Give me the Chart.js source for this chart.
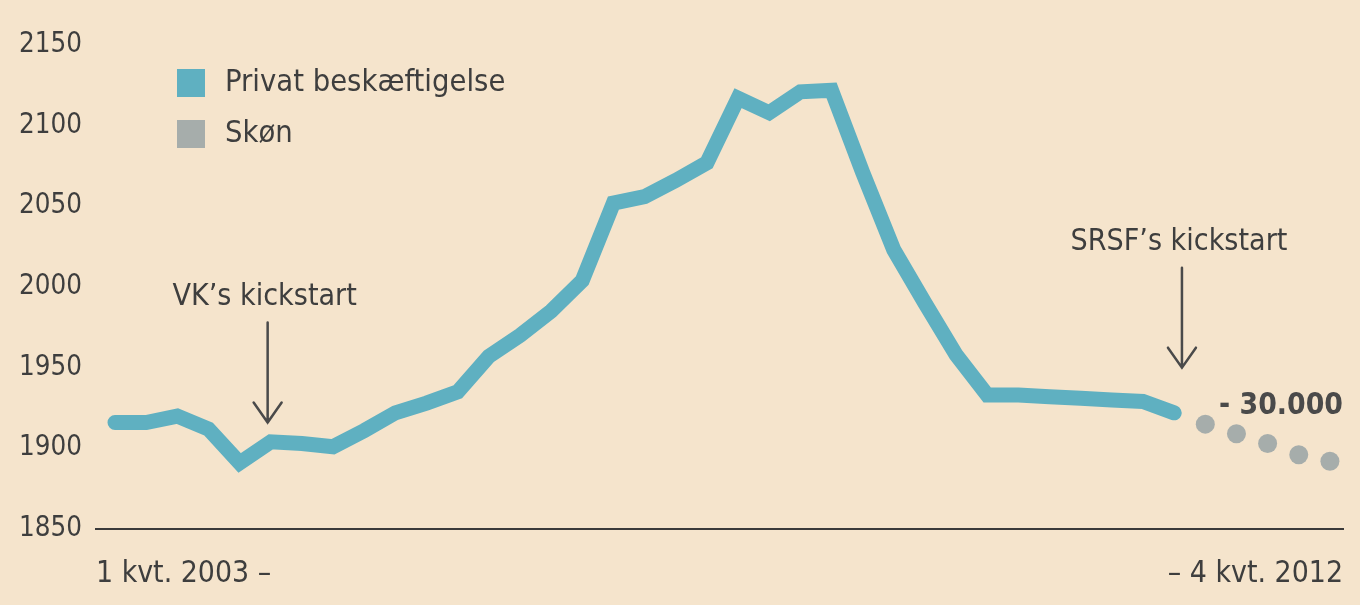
<!DOCTYPE html>
<html>
<head>
<meta charset="utf-8">
<script src="https://cdn.jsdelivr.net/npm/chart.js@4.4.1/dist/chart.umd.min.js"></script>
<style>
  html, body { margin: 0; padding: 0; background: #f5e4cc; }
  #wrap { width: 1360px; height: 605px; }
</style>
</head>
<body>
<div id="wrap"><canvas id="c" width="1360" height="605"></canvas></div>
<script>
// ---------- data ----------
const quarters = [
  '1 kvt. 2003','2 kvt. 2003','3 kvt. 2003','4 kvt. 2003',
  '1 kvt. 2004','2 kvt. 2004','3 kvt. 2004','4 kvt. 2004',
  '1 kvt. 2005','2 kvt. 2005','3 kvt. 2005','4 kvt. 2005',
  '1 kvt. 2006','2 kvt. 2006','3 kvt. 2006','4 kvt. 2006',
  '1 kvt. 2007','2 kvt. 2007','3 kvt. 2007','4 kvt. 2007',
  '1 kvt. 2008','2 kvt. 2008','3 kvt. 2008','4 kvt. 2008',
  '1 kvt. 2009','2 kvt. 2009','3 kvt. 2009','4 kvt. 2009',
  '1 kvt. 2010','2 kvt. 2010','3 kvt. 2010','4 kvt. 2010',
  '1 kvt. 2011','2 kvt. 2011','3 kvt. 2011','4 kvt. 2011',
  '1 kvt. 2012','2 kvt. 2012','3 kvt. 2012','4 kvt. 2012'
];
// Privat beskæftigelse (1000 personer), 1 kvt. 2003 - 3 kvt. 2011
const privat = [
  1916, 1916, 1920, 1912,
  1891, 1904, 1903, 1901,
  1911, 1922, 1928, 1935,
  1957, 1970, 1985, 2004,
  2052, 2056, 2066, 2077,
  2117, 2108, 2121, 2122,
  2071, 2023, 1990, 1958,
  1933, 1933, 1932, 1931,
  1930, 1929, 1922
];
// Skøn, 4 kvt. 2011 - 4 kvt. 2012
const skon = [1915, 1909, 1903, 1896, 1892];
const seriesLabels = ['Privat beskæftigelse', 'Skøn'];
const yTicks = [1850, 1900, 1950, 2000, 2050, 2100, 2150];
const xEdgeLabels = ['1 kvt. 2003 \u2013', '\u2013 4 kvt. 2012'];
const notes = ["VK\u2019s kickstart", "SRSF\u2019s kickstart"];
const noteAt = [[4.9, 1916], [34.25, 1950]];   // arrow tips (quarter index, value)
const changeLabel = '- 30.000';
const changeAt = 1921;

// ---------- fonts ----------
const mctx = document.createElement('canvas').getContext('2d');
function hasFont(f) {
  const s = 'mmmmmmmmwwiil WQ 2150 kickstart';
  mctx.font = '72px monospace'; const a = mctx.measureText(s).width;
  mctx.font = '72px "' + f + '", monospace'; const b = mctx.measureText(s).width;
  mctx.font = '72px serif'; const c = mctx.measureText(s).width;
  mctx.font = '72px "' + f + '", serif'; const d = mctx.measureText(s).width;
  return a !== b || c !== d;
}
const FAM = ['Liberation Sans Narrow', 'DejaVu Sans Condensed', 'Roboto Condensed', 'Open Sans Condensed', 'Roboto']
  .find(hasFont) || 'sans-serif';
function fit(text, target, weight) {
  mctx.font = (weight || 'normal') + ' 100px "' + FAM + '"';
  return Math.round(100 * target / mctx.measureText(text).width * 10) / 10;
}
const TXT = '#3e3e3e';
const sizeTick = fit('2150', 63);
const sizeX = fit(xEdgeLabels[0], 175);
const sizeLegend = fit(seriesLabels[0], 280);
const sizeNote = fit(notes[1], 217);
const sizeBold = fit(changeLabel, 124, 'bold');

// ---------- plugins ----------
const paper = {
  id: 'paper',
  beforeDraw(chart) {
    const c = chart.ctx;
    c.save();
    c.fillStyle = '#f5e4cc';
    c.fillRect(0, 0, chart.width, chart.height);
    c.restore();
  }
};

const overlay = {
  id: 'overlay',
  afterDatasetsDraw(chart) {
    const c = chart.ctx, xs = chart.scales.x, ys = chart.scales.y, ca = chart.chartArea;
    c.save();
    // legend
    const ds = chart.data.datasets;
    const boxes = [[177, 69], [177, 120]];
    c.font = sizeLegend + 'px "' + FAM + '"';
    c.textBaseline = 'middle';
    c.textAlign = 'left';
    ds.forEach((d, i) => {
      c.fillStyle = i === 0 ? d.borderColor : d.pointBackgroundColor;
      c.fillRect(boxes[i][0], boxes[i][1], 28, 28);
      c.fillStyle = TXT;
      c.fillText(d.label, 225, boxes[i][1] + 14);
    });
    // annotations with arrows
    c.strokeStyle = '#4a4a4a';
    c.lineWidth = 2.5;
    c.lineCap = 'round';
    c.lineJoin = 'miter';
    notes.forEach((t, i) => {
      const x = xs.getPixelForValue(noteAt[i][0]);
      const y = ys.getPixelForValue(noteAt[i][1]);
      c.beginPath();
      c.moveTo(x, y - 100); c.lineTo(x, y);
      c.moveTo(x - 14, y - 20); c.lineTo(x, y); c.lineTo(x + 14, y - 20);
      c.stroke();
      c.font = sizeNote + 'px "' + FAM + '"';
      c.textAlign = 'center';
      c.textBaseline = 'alphabetic';
      c.fillStyle = TXT;
      c.fillText(t, x - 3, y - 118);
    });
    // change label
    c.font = 'bold ' + sizeBold + 'px "' + FAM + '"';
    c.textAlign = 'right';
    c.textBaseline = 'alphabetic';
    c.fillStyle = '#4a4a4a';
    c.fillText(changeLabel, ca.right, ys.getPixelForValue(changeAt));
    c.restore();
  }
};

// ---------- chart ----------
const privatPts = privat.map((v, i) => ({ x: i, y: v }));
const skonPts = skon.map((v, i) => ({ x: privat.length + i, y: v }));

new Chart(document.getElementById('c'), {
  type: 'line',
  data: {
    labels: quarters,
    datasets: [
      {
        label: seriesLabels[0],
        data: privatPts,
        borderColor: '#5fb0c1',
        backgroundColor: '#5fb0c1',
        borderWidth: 15,
        borderCapStyle: 'round',
        borderJoinStyle: 'miter',
        pointRadius: 0,
        tension: 0,
        fill: false
      },
      {
        label: seriesLabels[1],
        data: skonPts,
        showLine: false,
        pointRadius: 9.5,
        pointBackgroundColor: '#a6adab',
        pointBorderWidth: 0,
        borderColor: '#a6adab',
        backgroundColor: '#a6adab'
      }
    ]
  },
  options: {
    responsive: false,
    animation: false,
    events: [],
    layout: { padding: { top: 45, right: 17, left: 0, bottom: 0 } },
    plugins: { legend: { display: false }, tooltip: { enabled: false } },
    scales: {
      x: {
        type: 'linear',
        min: -0.61,
        max: 39.42,
        grid: { display: false, drawTicks: false },
        border: { display: true, color: '#3a3a3a', width: 2 },
        afterBuildTicks: s => { s.ticks = [{ value: s.min }, { value: s.max }]; },
        afterFit: s => { s.height = 76; },
        ticks: {
          align: 'inner',
          autoSkip: false,
          maxRotation: 0,
          padding: 16,
          color: TXT,
          font: { family: FAM, size: sizeX, lineHeight: '58px' },
          callback: (v, i) => xEdgeLabels[i]
        }
      },
      y: {
        min: yTicks[0],
        max: yTicks[yTicks.length - 1],
        afterBuildTicks: s => { s.ticks = yTicks.map(v => ({ value: v })); },
        afterFit: s => { s.width = 96; },
        grid: { display: false, drawTicks: false },
        border: { display: false },
        ticks: {
          padding: 14,
          color: TXT,
          font: { family: FAM, size: sizeTick },
          callback: v => String(v)
        }
      }
    }
  },
  plugins: [paper, overlay]
});
</script>
</body>
</html>
